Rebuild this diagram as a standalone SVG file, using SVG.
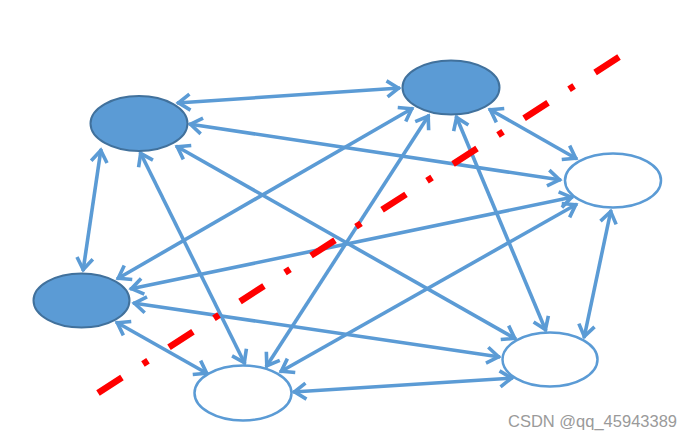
<svg xmlns="http://www.w3.org/2000/svg" width="693" height="438" viewBox="0 0 693 438">
<style>
.edge{stroke:#5b9bd5;stroke-width:3.6;fill:none;marker-start:url(#ah);marker-end:url(#ah)}
.full{fill:#5b9bd5;stroke:#41719c;stroke-width:2}
.empty{fill:#ffffff;stroke:#5b9bd5;stroke-width:2.5}
.cut{stroke:#ff0000;stroke-width:6.5;fill:none;stroke-dasharray:28.5 25 6 25}
.wm{font-family:"Liberation Sans",Arial,sans-serif;font-size:16.5px;fill:#9a9a9a}
</style>
<defs>
<marker id="ah" markerUnits="userSpaceOnUse" markerWidth="34" markerHeight="34" viewBox="-17 -17 34 34" refX="0" refY="0" orient="auto-start-reverse">
<path d="M-13,-8 L-1.5,0 L-13,8" fill="none" stroke="#5b9bd5" stroke-width="3.6" stroke-linejoin="miter"/>
</marker>
</defs>
<rect width="693" height="438" fill="#ffffff"/>
<g id="connectors">
<line class="edge" x1="177" y1="103" x2="400" y2="88"/>
<line class="edge" x1="189" y1="124" x2="561" y2="180"/>
<line class="edge" x1="176" y1="146" x2="516" y2="339"/>
<line class="edge" x1="140" y1="152" x2="245" y2="364"/>
<line class="edge" x1="101" y1="149" x2="83" y2="271"/>
<line class="edge" x1="413" y1="108" x2="117" y2="279"/>
<line class="edge" x1="429" y1="115" x2="266" y2="367"/>
<line class="edge" x1="456" y1="116" x2="546" y2="331"/>
<line class="edge" x1="489" y1="109" x2="577" y2="159"/>
<line class="edge" x1="130" y1="289" x2="573" y2="197"/>
<line class="edge" x1="133" y1="303" x2="500" y2="357"/>
<line class="edge" x1="116" y1="322" x2="208" y2="374"/>
<line class="edge" x1="577" y1="204" x2="280" y2="372"/>
<line class="edge" x1="611" y1="210" x2="584" y2="338"/>
<line class="edge" x1="513" y1="378" x2="293" y2="392"/>
</g>
<g id="nodeA"><ellipse class="full" cx="139" cy="123.5" rx="48.5" ry="27.5"/></g>
<g id="nodeB"><ellipse class="full" cx="451" cy="87.5" rx="48.5" ry="27"/></g>
<g id="nodeC"><ellipse class="full" cx="81.5" cy="300.5" rx="48" ry="27"/></g>
<g id="nodeD"><ellipse class="empty" cx="613" cy="180.5" rx="48" ry="27"/></g>
<g id="nodeE"><ellipse class="empty" cx="550" cy="359.5" rx="47.5" ry="27"/></g>
<g id="nodeF"><ellipse class="empty" cx="243" cy="393" rx="48.5" ry="27.5"/></g>
<g id="cutline"><line class="cut" x1="98" y1="393" x2="619" y2="57"/></g>
<text class="wm" x="508" y="427">CSDN @qq_45943389</text>
</svg>
